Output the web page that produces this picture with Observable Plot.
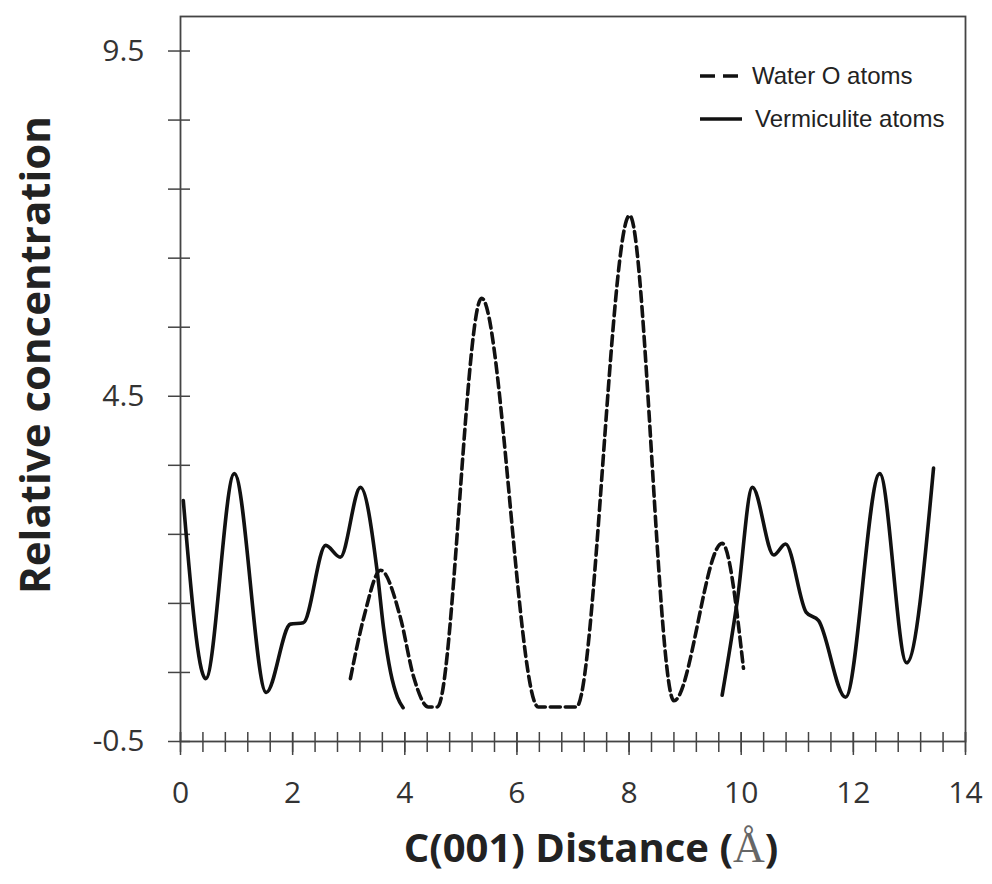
<!DOCTYPE html>
<html><head><meta charset="utf-8">
<script src="https://cdn.jsdelivr.net/npm/d3@7"></script>
<script src="https://cdn.jsdelivr.net/npm/@observablehq/plot@0.6"></script>
<style>body{margin:0;background:#fff;}</style>
</head><body><div id="chart"></div>
<script>
// Water O atoms (dashed)
const waterX = [3.03, 3.27, 3.57, 3.92, 4.16, 4.42, 4.58, 5.37, 6.38, 7.06, 8.01, 8.80, 9.66, 10.04];
const waterY = [0.41, 1.30, 1.98, 1.30, 0.43, 0.0, 0.0, 5.92, 0.0, 0.0, 7.12, 0.09, 2.37, 0.56];
// Vermiculite atoms, left layer (solid)
const vermLeftX = [0.05, 0.45, 0.96, 1.53, 1.96, 2.19, 2.59, 2.85, 3.21, 3.51, 3.62, 3.75, 3.87, 3.97];
const vermLeftY = [2.99, 0.41, 3.38, 0.21, 1.20, 1.22, 2.34, 2.17, 3.18, 1.95, 1.15, 0.49, 0.14, -0.01];
// Vermiculite atoms, right layer (solid)
const vermRightX = [9.66, 9.93, 10.2, 10.58, 10.79, 11.16, 11.38, 11.86, 12.47, 12.95, 13.43];
const vermRightY = [0.17, 1.54, 3.18, 2.20, 2.36, 1.37, 1.25, 0.14, 3.38, 0.64, 3.46];

const xLabelTicks = [0, 2, 4, 6, 8, 10, 12, 14];
const xMinorTicks = d3.range(0, 36).map(i => Math.round(i * 4) / 10);
const yLabelTicks = [9.5, 4.5, -0.5];
const yMinorTicks = [-0.5, 0.5, 1.5, 2.5, 3.5, 4.5, 5.5, 6.5, 7.5, 8.5, 9.5];
const xTitle = "C(001) Distance (";
const xUnit = "Å";
const yTitle = "Relative concentration";
const seriesNames = ["Water O atoms", "Vermiculite atoms"];

const toRows = (xs, ys) => xs.map((x, i) => ({x, y: ys[i]}));
const water = toRows(waterX, waterY);
const vermLeft = toRows(vermLeftX, vermLeftY);
const vermRight = toRows(vermRightX, vermRightY);

const axisColor = "#444";
const lineStyle = {x: "x", y: "y", curve: "monotone-x", stroke: "#111", strokeWidth: 3.6};

const svg = Plot.plot({
  width: 992, height: 884,
  marginLeft: 180, marginRight: 27, marginTop: 16, marginBottom: 143,
  x: {domain: [0, 14]},
  y: {domain: [-0.5, 10]},
  style: {background: "#fff"},
  marks: [
    Plot.frame({stroke: axisColor, strokeWidth: 1.8}),
    Plot.axisX({ticks: xMinorTicks, tickSize: 20, dy: -9, fill: "none", stroke: axisColor, strokeWidth: 1.5, label: null}),
    Plot.axisX({ticks: xLabelTicks, tickSize: 23, dy: -9, fill: "none", stroke: axisColor, strokeWidth: 1.5, label: null}),
    Plot.axisX({ticks: xLabelTicks, tickSize: 0, tickPadding: 40, fontSize: 30, fontFamily: "Open Sans", fill: "#333", label: null, tickFormat: d => String(d)}),
    Plot.axisY({ticks: yMinorTicks, tickSize: 22, dx: 10, fill: "none", stroke: axisColor, strokeWidth: 1.5, label: null}),
    Plot.axisY({ticks: yLabelTicks, tickSize: 0, tickPadding: 36, fontSize: 30, fontFamily: "Open Sans", fill: "#333", label: null, tickFormat: d => String(d)}),
    Plot.line(water, {...lineStyle, strokeDasharray: "10,5"}),
    Plot.line(vermLeft, lineStyle),
    Plot.line(vermRight, lineStyle)
  ]
});

const s = d3.select(svg);
// Axis titles
const xt = s.append("text")
  .attr("x", 591).attr("y", 862)
  .attr("text-anchor", "middle")
  .attr("font-family", "Open Sans").attr("font-weight", "bold").attr("font-size", 40)
  .attr("fill", "#222");
xt.append("tspan").text(xTitle);
xt.append("tspan").attr("font-family", "Liberation Serif").attr("font-weight", "normal").attr("fill", "#666").attr("font-size", 44).text(xUnit);
xt.append("tspan").text(")");

s.append("text")
  .attr("transform", "translate(50,355) rotate(-90)")
  .attr("text-anchor", "middle")
  .attr("font-family", "Open Sans").attr("font-weight", "bold").attr("font-size", 42)
  .attr("fill", "#222")
  .text(yTitle);

// Legend
const lg = s.append("g").attr("font-family", "Liberation Sans").attr("font-size", 24).attr("fill", "#222").attr("text-anchor", "start");
const legendRows = [{name: seriesNames[0], dash: "15,8", y: 76, tx: 752}, {name: seriesNames[1], dash: null, y: 119, tx: 755}];
legendRows.forEach(r => {
  const ln = lg.append("line").attr("x1", 700).attr("x2", r.dash ? 738 : 742).attr("y1", r.y).attr("y2", r.y)
    .attr("stroke", "#111").attr("stroke-width", 3.6);
  if (r.dash) ln.attr("stroke-dasharray", r.dash);
  lg.append("text").attr("x", r.tx).attr("y", r.y).attr("dy", "0.35em").attr("text-anchor", "start").text(r.name);
});

document.getElementById("chart").appendChild(svg);
</script>
</body></html>
